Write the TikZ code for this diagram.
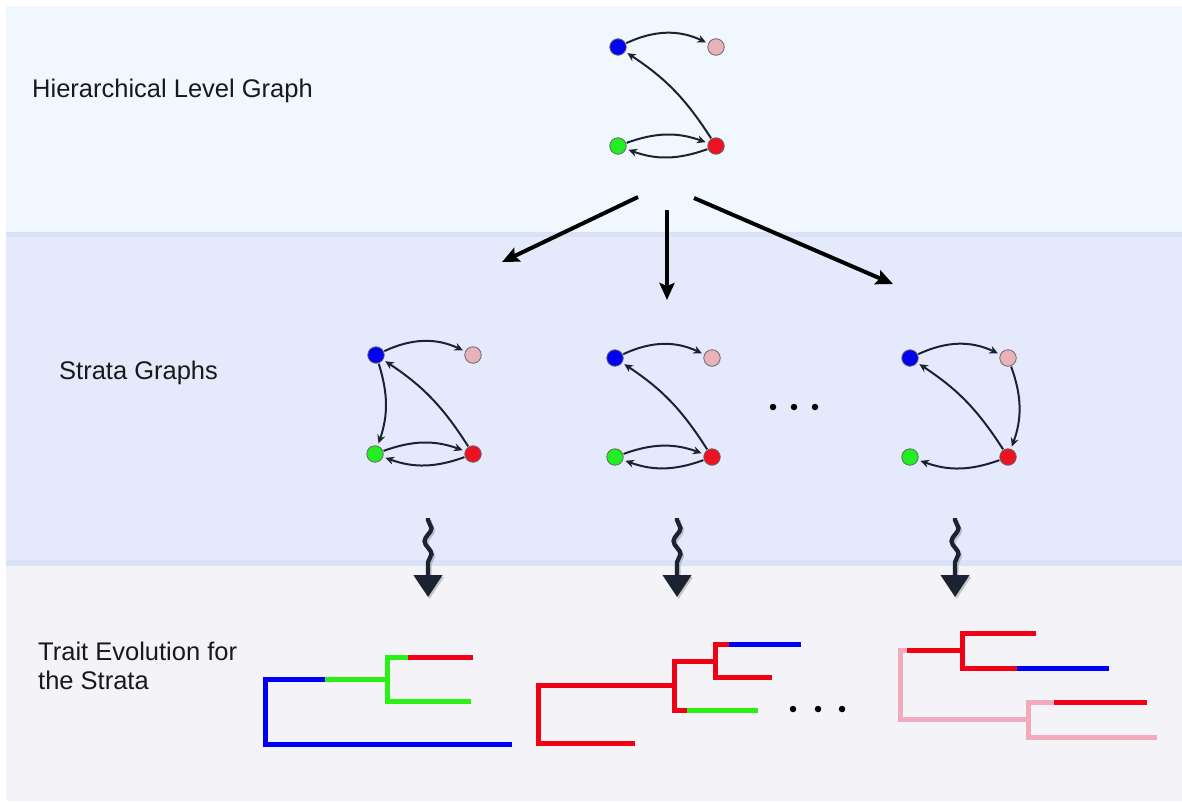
\documentclass[tikz,border=0pt]{standalone}
\usepackage{fontspec}
\setmainfont{Liberation Sans}
\usetikzlibrary{arrows.meta,decorations.pathmorphing}

\definecolor{topband}{HTML}{F0F7FE}
\definecolor{midband}{HTML}{E4EAFB}
\definecolor{botband}{HTML}{F3F3F8}
\definecolor{bandedge}{HTML}{D9E2F7}
\definecolor{ink}{HTML}{1B2330}
\definecolor{vblue}{HTML}{0000F5}
\definecolor{vpink}{HTML}{E9B1BA}
\definecolor{vgreen}{HTML}{22EE22}
\definecolor{vred}{HTML}{EE1122}
\definecolor{tblue}{HTML}{0000FA}
\definecolor{tgreen}{HTML}{2BF016}
\definecolor{tred}{HTML}{F20015}
\definecolor{tpink}{HTML}{F2AABD}

\begin{document}
\begin{tikzpicture}[x=1pt,y=1pt,
  vtx/.style={circle, minimum size=16.5pt, inner sep=0pt, draw=black!60, line width=0.8pt},
  gedge/.style={-{Stealth[length=8.5pt,width=8pt]}, line width=2pt, draw=ink,
                shorten >=2.5pt, shorten <=0.5pt},
  bigarrow/.style={-{Stealth[length=17pt,width=15pt,inset=3pt]}, line width=4pt, draw=black},
  squig/.style={line width=4.3pt, draw=ink, -{Triangle[length=22pt,width=28pt]},
                decorate, decoration={snake, amplitude=3.5pt, segment length=26pt,
                pre length=2pt, post length=24pt}},
  squigshade/.style={squig, draw=black!45, opacity=0.45},
  branch/.style={line width=5pt, line cap=butt, line join=miter},
  lbl/.style={font=\fontsize{25.5}{29}\selectfont, text=black!90, inner sep=0pt},
  dot/.style={circle, fill=black, inner sep=0pt, minimum size=6.5pt}
]
\useasboundingbox (0,0) rectangle (1182,-801);

% horizontal bands
\fill[white] (0,0) rectangle (1182,-801);
\fill[topband] (6,-6) rectangle (1182,-232);
\fill[midband] (6,-232) rectangle (1182,-566);
\fill[botband] (6,-566) rectangle (1182,-801);
\fill[bandedge] (6,-232) rectangle (1182,-237);
\fill[bandedge] (6,-560) rectangle (1182,-566);

% band titles
\node[lbl, anchor=base west] (lh) at (32,-97) {Hierarchical Level Graph};
\node[lbl, anchor=base west] (ls) at (59,-379) {Strata Graphs};
\node[lbl, anchor=base west] (lt1) at (38,-660) {Trait Evolution for};
\node[lbl, anchor=base west] (lt2) at (38,-689) {the Strata};

% hierarchical level graph
\node[vtx, fill=vblue]  (hb) at (618,-47)  {};
\node[vtx, fill=vpink]  (hp) at (716,-47)  {};
\node[vtx, fill=vgreen] (hg) at (618,-146) {};
\node[vtx, fill=vred]   (hr) at (716,-146) {};
\draw[gedge] (hb) to[bend left=25] (hp);
\draw[gedge] (hr) to[bend right=12] (hb);
\draw[gedge] (hg) to[bend left=20] (hr);
\draw[gedge] (hr) to[bend left=20] (hg);

% arrows down to the strata
\coordinate (f0) at (638,-197); \coordinate (f1) at (502,-262);
\coordinate (g0) at (667,-210); \coordinate (g1) at (667,-300);
\coordinate (h0) at (694,-198); \coordinate (h1) at (893,-284);
\draw[bigarrow] (f0) -- (f1);
\draw[bigarrow] (g0) -- (g1);
\draw[bigarrow] (h0) -- (h1);

% strata graph 1
\node[vtx, fill=vblue]  (ab) at (376,-355) {};
\node[vtx, fill=vpink]  (ap) at (473,-355) {};
\node[vtx, fill=vgreen] (ag) at (375,-454) {};
\node[vtx, fill=vred]   (ar) at (473,-454) {};
\draw[gedge] (ab) to[bend left=25] (ap);
\draw[gedge] (ar) to[bend right=12] (ab);
\draw[gedge] (ab) to[bend left=18] (ag);
\draw[gedge] (ag) to[bend left=20] (ar);
\draw[gedge] (ar) to[bend left=20] (ag);

% strata graph 2
\node[vtx, fill=vblue]  (bb) at (615,-358) {};
\node[vtx, fill=vpink]  (bp) at (712,-358) {};
\node[vtx, fill=vgreen] (bg) at (615,-457) {};
\node[vtx, fill=vred]   (br) at (712,-457) {};
\draw[gedge] (bb) to[bend left=25] (bp);
\draw[gedge] (br) to[bend right=12] (bb);
\draw[gedge] (bg) to[bend left=20] (br);
\draw[gedge] (br) to[bend left=20] (bg);

% strata graph 3
\node[vtx, fill=vblue]  (cb) at (910,-358)  {};
\node[vtx, fill=vpink]  (cp) at (1008,-358) {};
\node[vtx, fill=vgreen] (cg) at (910,-457)  {};
\node[vtx, fill=vred]   (cr) at (1008,-457) {};
\draw[gedge] (cb) to[bend left=25] (cp);
\draw[gedge] (cr) to[bend right=12] (cb);
\draw[gedge] (cp) to[bend left=20] (cr);
\draw[gedge] (cr) to[bend left=20] (cg);

% ellipsis between strata
\node[dot] (e1) at (773,-407) {};
\node[dot] (e2) at (794,-407) {};
\node[dot] (e3) at (815,-407) {};

% wavy arrows to the trees
\foreach \x/\n in {428/p,677/q,955/r}{
  \coordinate (\n0) at (\x,-518);
  \coordinate (\n1) at (\x,-597);
  \draw[squigshade, transform canvas={shift={(1.5pt,-2pt)}}] (\n0) -- (\n1);
  \draw[squig] (\n0) -- (\n1);
}

% trait tree 1
\draw[branch, tblue]  (325,-679) -- (265,-679) -- (265,-744) -- (512,-744);
\draw[branch, tgreen] (325,-679) -- (387,-679);
\draw[branch, tgreen] (408,-657) -- (387,-657) -- (387,-701) -- (471,-701);
\draw[branch, tred]   (408,-657) -- (473,-657);

% trait tree 2
\draw[branch, tred] (635,-743) -- (538,-743) -- (538,-685) -- (674,-685);
\draw[branch, tred] (715,-661) -- (674,-661) -- (674,-710) -- (687,-710);
\draw[branch, tred] (729,-644) -- (715,-644) -- (715,-677) -- (772,-677);
\draw[branch, tblue]  (729,-644) -- (801,-644);
\draw[branch, tgreen] (687,-710) -- (758,-710);

% ellipsis after tree 2
\node[dot] (d1) at (793,-709) {};
\node[dot] (d2) at (818,-709) {};
\node[dot] (d3) at (842,-709) {};

% trait tree 3
\draw[branch, tpink] (907,-650) -- (900,-650) -- (900,-719) -- (1028,-719);
\draw[branch, tpink] (1054,-702) -- (1028,-702) -- (1028,-737) -- (1157,-737);
\draw[branch, tred]  (907,-650) -- (962,-650);
\draw[branch, tred]  (1036,-633) -- (962,-633) -- (962,-668) -- (1017,-668);
\draw[branch, tred]  (1054,-702) -- (1147,-702);
\draw[branch, tblue] (1017,-668) -- (1109,-668);
\end{tikzpicture}
\end{document}
